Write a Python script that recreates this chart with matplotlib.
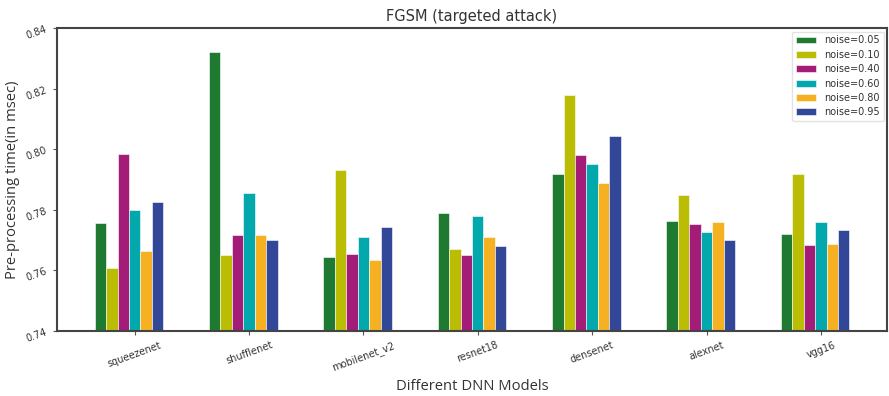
import numpy as np
import matplotlib
matplotlib.use("Agg")
import matplotlib.pyplot as plt

models = ["squeezenet", "shufflenet", "mobilenet_v2", "resnet18", "densenet", "alexnet", "vgg16"]
noise_labels = ["noise=0.05", "noise=0.10", "noise=0.40", "noise=0.60", "noise=0.80", "noise=0.95"]

noise_005 = [0.7758, 0.8320, 0.7645, 0.7791, 0.7920, 0.7763, 0.7720]
noise_010 = [0.7609, 0.7652, 0.7931, 0.7670, 0.8178, 0.7849, 0.7917]
noise_040 = [0.7984, 0.7717, 0.7655, 0.7650, 0.7981, 0.7754, 0.7683]
noise_060 = [0.7799, 0.7855, 0.7712, 0.7779, 0.7953, 0.7726, 0.7760]
noise_080 = [0.7664, 0.7717, 0.7634, 0.7710, 0.7890, 0.7760, 0.7689]
noise_095 = [0.7825, 0.7699, 0.7742, 0.7680, 0.8044, 0.7702, 0.7732]

series = [noise_005, noise_010, noise_040, noise_060, noise_080, noise_095]
colors = ["#1d7a30", "#bbbd05", "#a21c78", "#03a8ac", "#f5b121", "#324797"]

fig = plt.figure(figsize=(8.89, 3.96), dpi=100)
ax = fig.add_axes([0.064, 0.164, 0.934, 0.765])

x = np.arange(len(models))
w = 0.1
for i, (vals, col, lab) in enumerate(zip(series, colors, noise_labels)):
    ax.bar(x + (i - 3) * w, vals, width=w, color=col, label=lab,
           edgecolor="white", linewidth=0.4)

ax.set_ylim(0.74, 0.84)
ax.set_yticks([0.74, 0.76, 0.78, 0.80, 0.82, 0.84])
ax.set_yticklabels(["0.74", "0.76", "0.78", "0.80", "0.82", "0.84"],
                   rotation=20, fontsize=7, color="#333333")
ax.set_xticks(x)
ax.set_xticklabels(models, rotation=20, fontsize=7, color="#333333")
ax.tick_params(axis="both", length=3, color="#555555")

for s in ax.spines.values():
    s.set_linewidth(1.5)
    s.set_color("#444444")

ax.set_title("FGSM (targeted attack)", fontsize=10.5, color="#333333", pad=5)
ax.set_ylabel("Pre-processing time(in msec)", fontsize=10.6, color="#333333",
              family=["Open Sans", "DejaVu Sans"], labelpad=3)
ax.set_xlabel("Different DNN Models", fontsize=10.6, color="#333333",
              family=["Open Sans", "DejaVu Sans"], labelpad=4)

ax.legend(loc="upper right", fontsize=7, frameon=True, handlelength=2.0,
          labelspacing=0.45, borderaxespad=0.35, handletextpad=0.9,
          edgecolor="#dddddd", labelcolor="#333333")

fig.savefig("out.png", dpi=100)
